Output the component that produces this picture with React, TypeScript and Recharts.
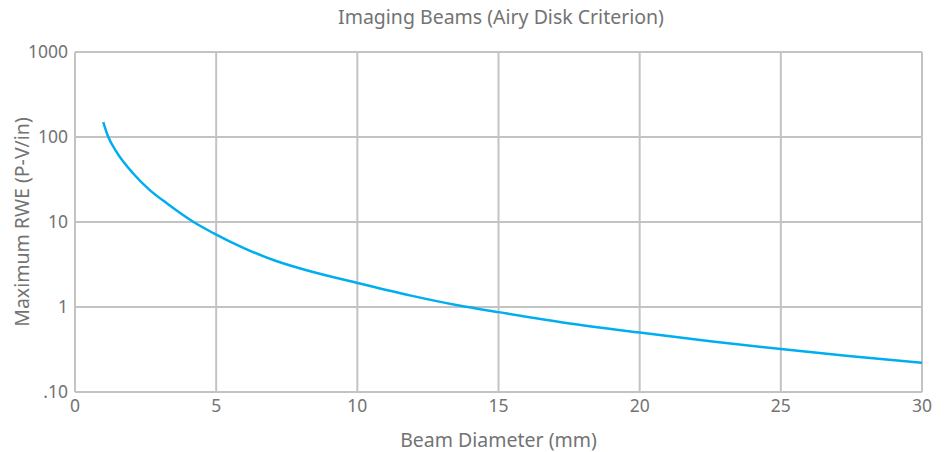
import React from 'react';
import { LineChart, Line, XAxis, YAxis, CartesianGrid } from 'recharts';

// beam diameter (mm)
const diameters = [1, 1.18, 1.47, 2.07, 2.65, 3.25, 4.2, 4.9, 6, 7.1, 8.3, 10, 11.9, 13.6, 15, 17.4, 20, 22.5, 25, 27.4, 30];
// maximum RWE (P-V/in)
const maxRwe = [150, 100, 67, 37, 23.7, 16.6, 10, 7.4, 4.9, 3.5, 2.65, 1.92, 1.36, 1.04, 0.87, 0.65, 0.5, 0.395, 0.32, 0.265, 0.22];

const xTicks = [0, 5, 10, 15, 20, 25, 30];
const yTicks = [0.1, 1, 10, 100, 1000];

const data = diameters.map((d, i) => ({ d, rwe: maxRwe[i] }));

const font = '"Noto Sans", "Open Sans", sans-serif';
const gridColor = '#c3c3c3';
const textColor = '#737373';

const fmtY = (v: number) => (v < 1 ? '.10' : String(v));

const App: React.FC = () => {
  return (
    <div style={{ position: 'absolute', left: 0, top: 0, width: 947, height: 452, background: '#fff', fontFamily: font }}>
      <div
        style={{
          position: 'absolute',
          left: 0,
          width: 1002,
          top: 3,
          textAlign: 'center',
          fontSize: 19.5,
          color: textColor,
        }}
      >
        Imaging Beams (Airy Disk Criterion)
      </div>
      <LineChart width={947} height={452} data={data} margin={{ top: 52, right: 25, bottom: 0, left: 0 }}>
        <CartesianGrid stroke={gridColor} strokeWidth={2} horizontal vertical />
        <XAxis
          dataKey="d"
          type="number"
          domain={[0, 30]}
          ticks={xTicks}
          height={60}
          tickLine={false}
          tickSize={0}
          tickMargin={8}
          axisLine={{ stroke: gridColor, strokeWidth: 2 }}
          tick={{ fill: textColor, fontSize: 17.5, fontFamily: font }}
          label={{ value: 'Beam Diameter (mm)', position: 'insideBottom', offset: 5, fill: textColor, fontSize: 19.5, fontFamily: font }}
        />
        <YAxis
          scale="log"
          domain={[0.1, 1000]}
          ticks={yTicks}
          allowDataOverflow
          width={75}
          tickLine={false}
          tickSize={0}
          tickMargin={7}
          tickFormatter={fmtY}
          axisLine={{ stroke: gridColor, strokeWidth: 2 }}
          tick={{ fill: textColor, fontSize: 17.5, fontFamily: font }}
          label={{ value: 'Maximum RWE (P-V/in)', angle: -90, position: 'insideLeft', offset: 22, style: { textAnchor: 'middle' }, fill: textColor, fontSize: 19.5, fontFamily: font }}
        />
        <Line
          type="monotone"
          dataKey="rwe"
          stroke="#00aeef"
          strokeWidth={2.5}
          dot={false}
          isAnimationActive={false}
        />
      </LineChart>
    </div>
  );
};

export default App;
